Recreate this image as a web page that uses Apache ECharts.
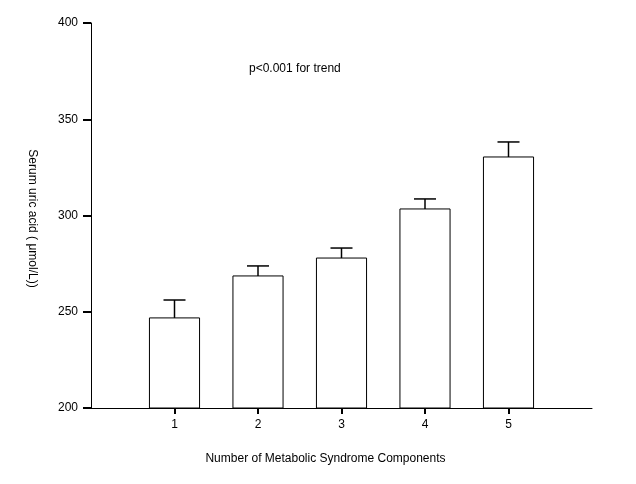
<!DOCTYPE html>
<html>
<head>
<meta charset="utf-8">
<script src="https://cdn.jsdelivr.net/npm/echarts@6/dist/echarts.min.js"></script>
<style>
  html, body { margin: 0; padding: 0; background: #fff; }
  #chart { width: 636px; height: 484px; }
</style>
</head>
<body>
<div id="chart"></div>
<script>
// number of metabolic syndrome components
const categories = [1, 2, 3, 4, 5];
// mean serum uric acid (umol/L)
const means = [246.8, 268.6, 277.9, 303.4, 330.4];
// upper error (SEM)
const sems = [9.3, 5.2, 5.2, 5.2, 7.8];
const yTicks = [200, 250, 300, 350, 400];

const chart = echarts.init(document.getElementById('chart'));
const font = 'Liberation Sans, Arial, sans-serif';

const barData = categories.map((c, i) => [c, means[i], means[i] + sems[i]]);

chart.setOption({
  animation: false,
  backgroundColor: '#fff',
  textStyle: { fontFamily: font },
  grid: { left: 91, right: 44, top: 23, bottom: 76 },
  xAxis: {
    type: 'value',
    min: 0,
    max: 6,
    interval: 1,
    name: 'Number of Metabolic Syndrome Components',
    nameLocation: 'middle',
    nameGap: 45,
    nameTextStyle: { color: '#000', fontSize: 12, fontFamily: font, padding: [0, 32, 0, 0] },
    axisLine: { show: true, onZero: false, lineStyle: { color: '#000', width: 1 } },
    axisTick: {
      show: true,
      customValues: categories,
      length: 6,
      lineStyle: { color: '#000', width: 2 }
    },
    axisLabel: {
      customValues: categories,
      color: '#000',
      fontSize: 12,
      margin: 11,
      fontFamily: font
    },
    splitLine: { show: false }
  },
  yAxis: {
    type: 'value',
    min: 200,
    max: 400,
    interval: 50,
    name: 'Serum uric acid ( \u03bcmol/L))',
    nameLocation: 'middle',
    nameRotate: -90,
    nameGap: 53,
    nameTextStyle: { color: '#000', fontSize: 12, fontFamily: font, padding: [0, 0, 0, 6] },
    axisLine: { show: true, lineStyle: { color: '#000', width: 1 } },
    axisTick: { show: true, length: 8, lineStyle: { color: '#000', width: 2 } },
    axisLabel: {
      color: '#000',
      fontSize: 12,
      margin: 13,
      fontFamily: font,
      formatter: v => (yTicks.indexOf(v) >= 0 ? String(v) : '')
    },
    splitLine: { show: false }
  },
  graphic: [{
    type: 'text',
    left: 249,
    top: 63,
    style: { text: 'p<0.001 for trend', fill: '#000', font: '12px ' + font }
  }],
  series: [{
    type: 'custom',
    data: barData,
    encode: { x: 0, y: [1, 2] },
    clip: false,
    renderItem: function (params, api) {
      const x = api.value(0);
      const top = api.coord([x, api.value(1)]);
      const base = api.coord([x, 200]);
      const err = api.coord([x, api.value(2)]);
      const w = api.size([0.6, 0])[0];
      const cap = 22;
      return {
        type: 'group',
        children: [{
          type: 'rect',
          shape: { x: top[0] - w / 2, y: top[1], width: w, height: base[1] - top[1] },
          style: { fill: '#fff', stroke: '#000', lineWidth: 1 }
        }, {
          type: 'line',
          shape: { x1: top[0], y1: top[1], x2: err[0], y2: err[1] },
          style: { stroke: '#000', lineWidth: 1.5 }
        }, {
          type: 'line',
          shape: { x1: err[0] - cap / 2, y1: err[1], x2: err[0] + cap / 2, y2: err[1] },
          style: { stroke: '#000', lineWidth: 1.5 }
        }]
      };
    }
  }]
});
</script>
</body>
</html>
